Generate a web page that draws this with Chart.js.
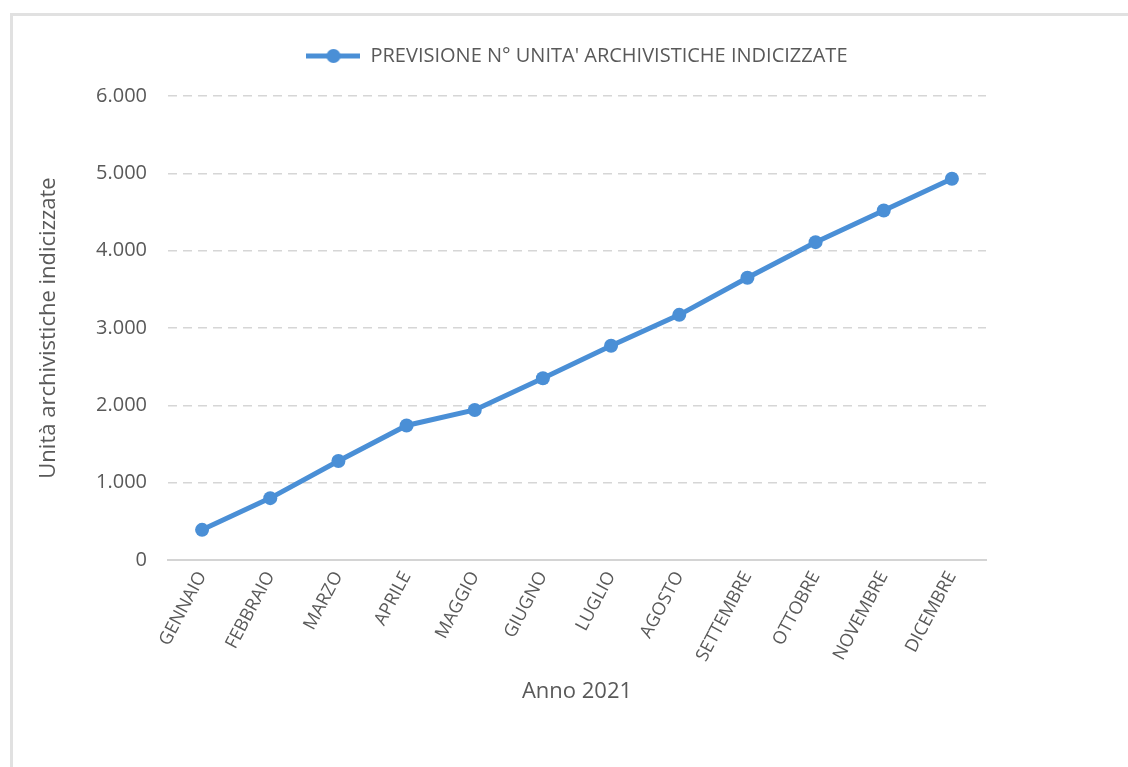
<!DOCTYPE html>
<html lang="it">
<head>
<meta charset="utf-8">
<title>Previsione unità archivistiche indicizzate 2021</title>
<script src="https://cdn.jsdelivr.net/npm/chart.js@4.4.1/dist/chart.umd.min.js"></script>
<style>
  html, body { margin: 0; padding: 0; background: #ffffff; }
  #wrap { position: relative; width: 1128px; height: 767px; overflow: hidden; }
  #frame {
    position: absolute; left: 10px; top: 13px; width: 1200px; height: 800px;
    border-left: 3px solid #e1e1e1; border-top: 3px solid #e1e1e1;
  }
  #chart { position: absolute; left: 0; top: 0; }
</style>
</head>
<body>
<div id="wrap">
  <div id="frame"></div>
  <canvas id="chart" width="1128" height="767"></canvas>
</div>
<script>
// Mesi dell'anno 2021
const mesi = ['GENNAIO', 'FEBBRAIO', 'MARZO', 'APRILE', 'MAGGIO', 'GIUGNO',
              'LUGLIO', 'AGOSTO', 'SETTEMBRE', 'OTTOBRE', 'NOVEMBRE', 'DICEMBRE'];

// Previsione cumulata delle unità archivistiche indicizzate
const unitaIndicizzate = [390, 800, 1280, 1740, 1940, 2350, 2770, 3170, 3650, 4110, 4520, 4930];

const nomeSerie = "PREVISIONE N° UNITA' ARCHIVISTICHE INDICIZZATE";
const titoloAsseY = 'Unità archivistiche indicizzate';
const titoloAsseX = 'Anno 2021';

const BLU = '#4a8fd6';
const TESTO = '#595959';
const FONT = "'Open Sans', 'Liberation Sans', sans-serif";

// Separatore delle migliaia all'italiana: 6000 -> 6.000
function formatoIt(v) {
  return String(v).replace(/\B(?=(\d{3})+(?!\d))/g, '.');
}

// Simbolo di legenda: tratto di linea con il marcatore circolare
function simboloLegenda() {
  const c = document.createElement('canvas');
  c.width = 54; c.height = 16;
  const g = c.getContext('2d');
  g.strokeStyle = BLU; g.lineWidth = 5;
  g.beginPath(); g.moveTo(0, 8); g.lineTo(54, 8); g.stroke();
  g.fillStyle = BLU;
  g.beginPath(); g.arc(27, 8, 7, 0, Math.PI * 2); g.fill();
  return c;
}

// Legenda centrata sull'area del grafico e con spazio extra sotto
const legendaSuArea = {
  id: 'legendaSuArea',
  beforeInit(chart) {
    const fit = chart.legend.fit;
    chart.legend.fit = function () {
      fit.call(this);
      this.height = 66;
    };
  },
  afterLayout(chart) {
    chart.legend.left = chart.chartArea.left;
    chart.legend.right = chart.chartArea.right;
  }
};

new Chart(document.getElementById('chart'), {
  type: 'line',
  data: {
    labels: mesi,
    datasets: [{
      label: nomeSerie,
      data: unitaIndicizzate,
      borderColor: BLU,
      backgroundColor: BLU,
      borderWidth: 5,
      pointRadius: 7,
      pointHoverRadius: 7,
      pointBackgroundColor: BLU,
      pointBorderColor: BLU,
      pointBorderWidth: 0,
      tension: 0
    }]
  },
  options: {
    responsive: false,
    animation: false,
    layout: { padding: { left: 28, right: 142, top: 30, bottom: 62 } },
    plugins: {
      tooltip: { enabled: false },
      legend: {
        position: 'top',
        align: 'center',
        labels: {
          usePointStyle: true,
          pointStyle: simboloLegenda(),
          pointStyleWidth: 54,
          boxHeight: 16,
          padding: 16,
          color: TESTO,
          font: { family: FONT, size: 20 }
        }
      }
    },
    scales: {
      x: {
        offset: true,
        afterFit(scale) { scale.height = 145; },
        grid: { display: false, drawTicks: false },
        border: { display: true, color: '#d4d4d4', width: 2 },
        ticks: {
          color: TESTO,
          font: { family: FONT, size: 18 },
          minRotation: 62,
          maxRotation: 62,
          padding: 8,
          autoSkip: false
        },
        title: {
          display: true,
          text: titoloAsseX,
          color: TESTO,
          font: { family: FONT, size: 22 },
          padding: { top: 0, bottom: 0 }
        }
      },
      y: {
        min: 0,
        max: 6000,
        afterFit(scale) { scale.width = 140; },
        border: { display: false, dash: [9, 6] },
        grid: {
          drawTicks: false,
          color: (ctx) => ctx.tick && ctx.tick.value === 0 ? 'rgba(0,0,0,0)' : '#d6d6d6',
          lineWidth: 1.5
        },
        ticks: {
          stepSize: 1000,
          padding: 21,
          color: TESTO,
          font: { family: FONT, size: 20 },
          callback: (v) => formatoIt(v)
        },
        title: {
          display: true,
          text: titoloAsseY,
          color: TESTO,
          font: { family: FONT, size: 22 },
          padding: { top: 8, bottom: 0 }
        }
      }
    }
  },
  plugins: [legendaSuArea]
});
</script>
</body>
</html>
